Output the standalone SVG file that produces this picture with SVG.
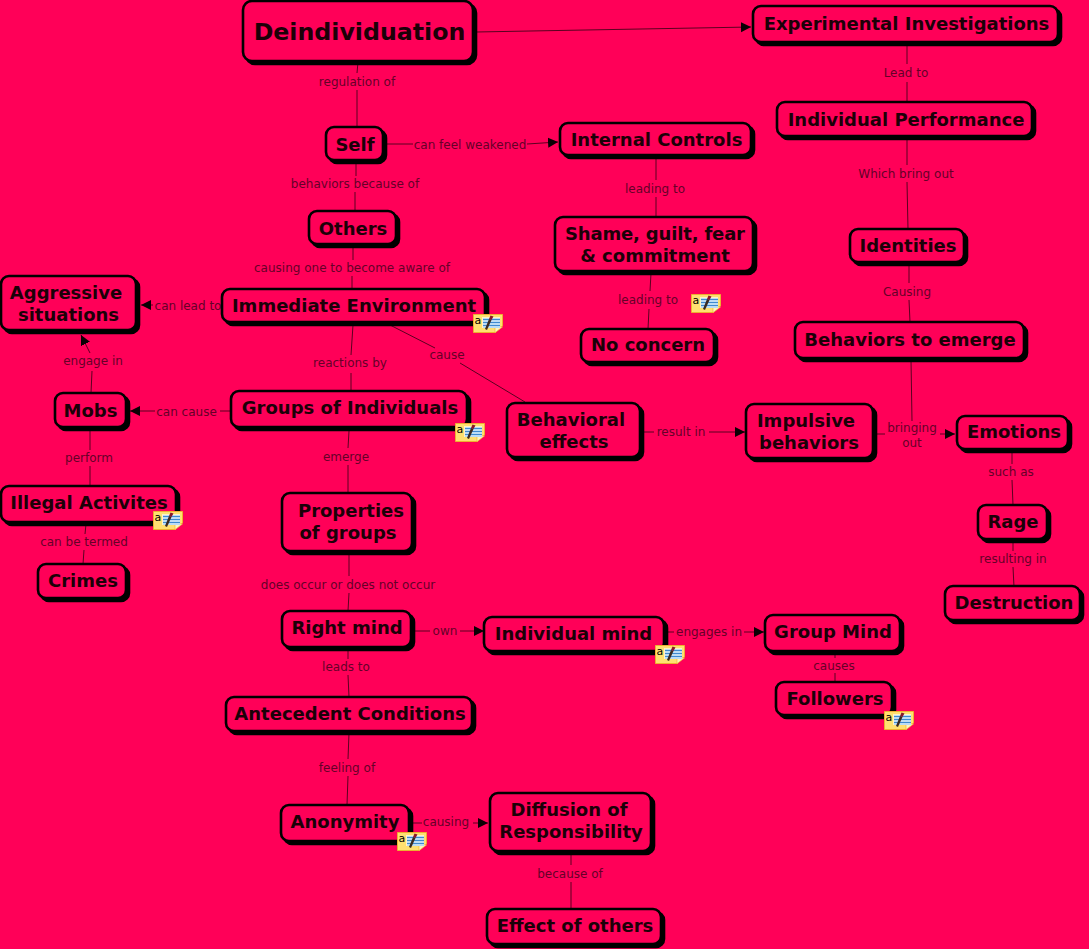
<svg xmlns="http://www.w3.org/2000/svg" width="1089" height="949" viewBox="0 0 1089 949">
<style>
text{font-family:"DejaVu Sans",sans-serif}
.n text{font-weight:bold;font-size:18px;fill:#1c0008;text-anchor:middle}
.s{fill:#000;stroke:#000;stroke-width:2.600}
.b{fill:#ff0058;stroke:#000;stroke-width:2.600}
.c line{stroke:#5a0020;stroke-width:1}
.l text{font-size:12px;fill:#660028;text-anchor:middle}
</style>
<defs>
<marker id="a" markerWidth="11" markerHeight="12" refX="10" refY="6" orient="auto" markerUnits="userSpaceOnUse"><path d="M0 1L10 6L0 11z" fill="#0a0004"/></marker>
<g id="note">
<path d="M.5 .5H29.500V12L22.500 18.500H.5z" fill="#ffe070" stroke="#eeb030"/>
<path d="M22 18.500V13H29.500z" fill="#fff4c0" stroke="#eeb030" stroke-width=".6"/>
<rect x="9" y="3" width="18" height="11" fill="#fff4c8"/>
<rect x="10" y="4" width="17" height="10" fill="#bcdcf4"/>
<path d="M10 5.500H27M10 8.500H27M10 11.500H27" stroke="#3f8ad0" stroke-width="1"/>
<path d="M12 15L16 5L18.500 6L14 16z" fill="#3a2a20"/><path d="M16 5L17.500 1.500L20.500 2.500L18.500 6z" fill="#8a1828"/>
<text x="1.500" y="9.500" style="font-size:11px;fill:#000">a</text>
</g>
</defs>
<rect width="1089" height="949" fill="#ff0058"/>
<g id="connectors" class="c">
<line x1="476" y1="32" x2="751" y2="27" marker-end="url(#a)"/>
<line x1="358" y1="62" x2="357" y2="73"/><line x1="357" y1="90" x2="357" y2="127"/>
<line x1="386" y1="144" x2="413" y2="144"/><line x1="527" y1="144" x2="558" y2="142" marker-end="url(#a)"/>
<line x1="356" y1="162" x2="356" y2="176"/><line x1="355" y1="192" x2="355" y2="211"/>
<line x1="353" y1="246" x2="353" y2="260"/><line x1="352" y1="276" x2="352" y2="289"/>
<line x1="153" y1="305" x2="141" y2="305" marker-end="url(#a)"/>
<line x1="353" y1="325" x2="351" y2="355"/><line x1="351" y1="373" x2="351" y2="390"/>
<line x1="390" y1="325" x2="435" y2="348"/><line x1="460" y1="363" x2="525" y2="402"/>
<line x1="231" y1="411" x2="220" y2="411"/><line x1="155" y1="411" x2="130" y2="411" marker-end="url(#a)"/>
<line x1="349" y1="431" x2="348" y2="448"/><line x1="348" y1="465" x2="348" y2="493"/>
<line x1="349" y1="554" x2="349" y2="576"/><line x1="349" y1="593" x2="348" y2="611"/>
<line x1="413" y1="631" x2="430" y2="631"/><line x1="460" y1="631" x2="484" y2="631" marker-end="url(#a)"/>
<line x1="666" y1="632" x2="674" y2="632"/><line x1="744" y1="632" x2="764" y2="632" marker-end="url(#a)"/>
<line x1="348" y1="650" x2="348" y2="659"/><line x1="348" y1="675" x2="349" y2="697"/>
<line x1="349" y1="733" x2="348" y2="759"/><line x1="348" y1="776" x2="347" y2="805"/>
<line x1="413" y1="823" x2="422" y2="823"/><line x1="473" y1="823" x2="488" y2="823" marker-end="url(#a)"/>
<line x1="571" y1="853" x2="571" y2="865"/><line x1="571" y1="882" x2="571" y2="909"/>
<line x1="835" y1="654" x2="835" y2="658"/><line x1="835" y1="673" x2="835" y2="682"/>
<line x1="91" y1="393" x2="92" y2="371"/><line x1="90" y1="353" x2="81" y2="335" marker-end="url(#a)"/>
<line x1="90" y1="429" x2="90" y2="450"/><line x1="90" y1="466" x2="90" y2="486"/>
<line x1="86" y1="524" x2="85" y2="534"/><line x1="84" y1="550" x2="83" y2="564"/>
<line x1="656" y1="158" x2="656" y2="180"/><line x1="656" y1="197" x2="656" y2="217"/>
<line x1="651" y1="273" x2="650" y2="291"/><line x1="649" y1="309" x2="648" y2="329"/>
<line x1="907" y1="45" x2="907" y2="64"/><line x1="907" y1="82" x2="907" y2="103"/>
<line x1="907" y1="139" x2="907" y2="165"/><line x1="907" y1="182" x2="908" y2="229"/>
<line x1="909" y1="264" x2="909" y2="283"/><line x1="909" y1="300" x2="910" y2="322"/>
<line x1="911" y1="360" x2="912" y2="421"/>
<line x1="642" y1="432" x2="654" y2="432"/><line x1="709" y1="432" x2="745" y2="432" marker-end="url(#a)"/>
<line x1="877" y1="434" x2="885" y2="434"/><line x1="940" y1="434" x2="955" y2="434" marker-end="url(#a)"/>
<line x1="1012" y1="450" x2="1012" y2="464"/><line x1="1012" y1="480" x2="1013" y2="505"/>
<line x1="1013" y1="541" x2="1013" y2="551"/><line x1="1013" y1="567" x2="1014" y2="587"/>
</g>
<g id="labels" class="l">
<text x="357" y="86">regulation of</text>
<text x="470" y="149">can feel weakened</text>
<text x="355" y="188">behaviors because of</text>
<text x="352" y="272">causing one to become aware of</text>
<text x="188" y="310">can lead to</text>
<text x="350" y="367">reactions by</text>
<text x="447" y="359">cause</text>
<text x="186.500" y="416">can cause</text>
<text x="346" y="461">emerge</text>
<text x="348" y="589">does occur or does not occur</text>
<text x="445" y="635">own</text>
<text x="709" y="636">engages in</text>
<text x="346" y="671">leads to</text>
<text x="347" y="772">feeling of</text>
<text x="446" y="826">causing</text>
<text x="570" y="878">because of</text>
<text x="834" y="670">causes</text>
<text x="93" y="365">engage in</text>
<text x="89" y="462">perform</text>
<text x="84" y="546">can be termed</text>
<text x="655" y="193">leading to</text>
<text x="648" y="304">leading to</text>
<text x="906" y="77">Lead to</text>
<text x="906" y="178">Which bring out</text>
<text x="907" y="296">Causing</text>
<text x="681" y="436">result in</text>
<text x="912" y="432">bringing</text><text x="912" y="447">out</text>
<text x="1011" y="476">such as</text>
<text x="1013" y="563">resulting in</text>
</g>
<g id="deindividuation" class="n"><rect class="s" x="246" y="4" width="230" height="60" rx="9"/><rect class="b" x="243" y="1" width="230" height="60" rx="9"/><text x="359.500" y="40" style="font-size:23.700px">Deindividuation</text></g>
<g id="experimental" class="n"><rect class="s" x="756" y="9" width="305" height="36" rx="8"/><rect class="b" x="753" y="6" width="305" height="36" rx="8"/><text x="906.500" y="30">Experimental Investigations</text></g>
<g id="individual-performance" class="n"><rect class="s" x="780" y="105" width="255" height="34" rx="8"/><rect class="b" x="777" y="102" width="255" height="34" rx="8"/><text x="906" y="126">Individual Performance</text></g>
<g id="self" class="n"><rect class="s" x="329" y="130" width="57" height="33" rx="8"/><rect class="b" x="326" y="127" width="57" height="33" rx="8"/><text x="355" y="151">Self</text></g>
<g id="internal" class="n"><rect class="s" x="563" y="126" width="191" height="32" rx="8"/><rect class="b" x="560" y="123" width="191" height="32" rx="8"/><text x="656.500" y="146">Internal Controls</text></g>
<g id="others" class="n"><rect class="s" x="312" y="214" width="87" height="33" rx="8"/><rect class="b" x="309" y="211" width="87" height="33" rx="8"/><text x="353" y="235">Others</text></g>
<g id="shame" class="n"><rect class="s" x="558" y="220" width="198" height="54" rx="8"/><rect class="b" x="555" y="217" width="198" height="54" rx="8"/><text x="655" y="240" textLength="180">Shame, guilt, fear</text><text x="655" y="262">&amp; commitment</text></g>
<g id="identities" class="n"><rect class="s" x="853" y="232" width="114" height="33" rx="8"/><rect class="b" x="850" y="229" width="114" height="33" rx="8"/><text x="908" y="252">Identities</text></g>
<g id="aggressive" class="n"><rect class="s" x="4" y="279" width="135" height="54" rx="8"/><rect class="b" x="1" y="276" width="135" height="54" rx="8"/><text x="66" y="299">Aggressive</text><text x="68.500" y="321">situations</text></g>
<g id="immediate" class="n"><rect class="s" x="225" y="292" width="263" height="33" rx="8"/><rect class="b" x="222" y="289" width="263" height="33" rx="8"/><text x="354" y="312">Immediate Environment</text></g>
<g id="behaviors-emerge" class="n"><rect class="s" x="798" y="325" width="229" height="36" rx="8"/><rect class="b" x="795" y="322" width="229" height="36" rx="8"/><text x="910" y="346">Behaviors to emerge</text></g>
<g id="no-concern" class="n"><rect class="s" x="584" y="332" width="133" height="33" rx="8"/><rect class="b" x="581" y="329" width="133" height="33" rx="8"/><text x="648" y="351">No concern</text></g>
<g id="mobs" class="n"><rect class="s" x="58" y="396" width="71" height="34" rx="8"/><rect class="b" x="55" y="393" width="71" height="34" rx="8"/><text x="90.500" y="417">Mobs</text></g>
<g id="groups" class="n"><rect class="s" x="234" y="394" width="236" height="36" rx="8"/><rect class="b" x="231" y="391" width="236" height="36" rx="8"/><text x="350" y="414">Groups of Individuals</text></g>
<g id="behavioral" class="n"><rect class="s" x="510" y="406" width="133" height="54" rx="8"/><rect class="b" x="507" y="403" width="133" height="54" rx="8"/><text x="571" y="426">Behavioral</text><text x="574" y="448">effects</text></g>
<g id="impulsive" class="n"><rect class="s" x="749" y="407" width="127" height="54" rx="8"/><rect class="b" x="746" y="404" width="127" height="54" rx="8"/><text x="806" y="427">Impulsive</text><text x="809" y="449">behaviors</text></g>
<g id="emotions" class="n"><rect class="s" x="960" y="419" width="111" height="33" rx="8"/><rect class="b" x="957" y="416" width="111" height="33" rx="8"/><text x="1014" y="438">Emotions</text></g>
<g id="illegal" class="n"><rect class="s" x="4" y="489" width="175" height="36" rx="8"/><rect class="b" x="1" y="486" width="175" height="36" rx="8"/><text x="89" y="509">Illegal Activites</text></g>
<g id="properties" class="n"><rect class="s" x="285" y="496" width="130" height="58" rx="8"/><rect class="b" x="282" y="493" width="130" height="58" rx="8"/><text x="351" y="517">Properties</text><text x="348" y="539">of groups</text></g>
<g id="rage" class="n"><rect class="s" x="981" y="508" width="69" height="34" rx="8"/><rect class="b" x="978" y="505" width="69" height="34" rx="8"/><text x="1013" y="528">Rage</text></g>
<g id="crimes" class="n"><rect class="s" x="41" y="567" width="88" height="34" rx="8"/><rect class="b" x="38" y="564" width="88" height="34" rx="8"/><text x="83" y="587">Crimes</text></g>
<g id="destruction" class="n"><rect class="s" x="948" y="589" width="135" height="34" rx="8"/><rect class="b" x="945" y="586" width="135" height="34" rx="8"/><text x="1014" y="609">Destruction</text></g>
<g id="right-mind" class="n"><rect class="s" x="285" y="614" width="129" height="36" rx="8"/><rect class="b" x="282" y="611" width="129" height="36" rx="8"/><text x="347" y="634">Right mind</text></g>
<g id="individual-mind" class="n"><rect class="s" x="487" y="620" width="180" height="34" rx="8"/><rect class="b" x="484" y="617" width="180" height="34" rx="8"/><text x="573.500" y="640">Individual mind</text></g>
<g id="group-mind" class="n"><rect class="s" x="768" y="618" width="135" height="36" rx="8"/><rect class="b" x="765" y="615" width="135" height="36" rx="8"/><text x="833" y="638">Group Mind</text></g>
<g id="followers" class="n"><rect class="s" x="779" y="685" width="116" height="33" rx="8"/><rect class="b" x="776" y="682" width="116" height="33" rx="8"/><text x="835" y="705">Followers</text></g>
<g id="antecedent" class="n"><rect class="s" x="229" y="700" width="246" height="34" rx="8"/><rect class="b" x="226" y="697" width="246" height="34" rx="8"/><text x="350" y="720">Antecedent Conditions</text></g>
<g id="anonymity" class="n"><rect class="s" x="284" y="808" width="128" height="36" rx="8"/><rect class="b" x="281" y="805" width="128" height="36" rx="8"/><text x="345" y="828">Anonymity</text></g>
<g id="diffusion" class="n"><rect class="s" x="493" y="796" width="161" height="58" rx="8"/><rect class="b" x="490" y="793" width="161" height="58" rx="8"/><text x="569" y="816">Diffusion of</text><text x="571" y="838">Responsibility</text></g>
<g id="effect" class="n"><rect class="s" x="490" y="912" width="174" height="35" rx="8"/><rect class="b" x="487" y="909" width="174" height="35" rx="8"/><text x="575" y="932">Effect of others</text></g>
<g id="notes">
<use href="#note" x="473" y="314"/>
<use href="#note" x="455" y="423"/>
<use href="#note" x="691" y="294"/>
<use href="#note" x="153" y="511"/>
<use href="#note" x="655" y="645"/>
<use href="#note" x="884" y="711"/>
<use href="#note" x="397" y="832"/>
</g>
</svg>
